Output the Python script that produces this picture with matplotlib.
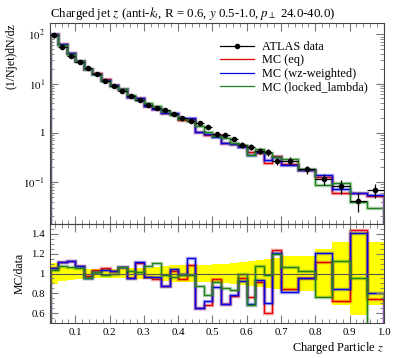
import numpy as np
import matplotlib
matplotlib.use("Agg")
import matplotlib.pyplot as plt
from matplotlib.lines import Line2D
from matplotlib.ticker import FixedLocator, MultipleLocator, FuncFormatter, LogLocator, NullFormatter

plt.rcParams['font.family'] = ['Liberation Serif', 'DejaVu Serif']
plt.rcParams['mathtext.fontset'] = 'stix'

# bin edges in z
edges = [0.025, 0.05, 0.075, 0.1, 0.125, 0.15, 0.175, 0.2, 0.225, 0.25, 0.275,
         0.3, 0.325, 0.35, 0.375, 0.4, 0.425, 0.45, 0.475, 0.5, 0.525, 0.55,
         0.575, 0.6, 0.625, 0.65, 0.675, 0.7, 0.75, 0.8, 0.85, 0.9, 0.95, 1.0]

# ATLAS data (1/Njet) dN/dz
data = [95, 56, 37, 27, 20.5, 15.5, 11.5, 9.0, 7.2, 5.7, 4.6, 3.7, 3.2, 2.85,
        2.4, 1.95, 1.75, 1.6, 1.3, 0.95, 0.91, 0.755, 0.57, 0.525, 0.435, 0.40,
        0.27, 0.27, 0.18, 0.115, 0.084, 0.042, 0.069]
# relative data uncertainty
data_rel_err = [0.11, 0.08, 0.07, 0.06, 0.045, 0.045, 0.045, 0.045, 0.05, 0.055,
                0.055, 0.06, 0.07, 0.08, 0.09, 0.09, 0.09, 0.09, 0.09, 0.1, 0.1,
                0.11, 0.12, 0.13, 0.14, 0.15, 0.16, 0.18, 0.18, 0.25, 0.32, 0.42, 0.32]

# MC / data ratios
ratio_eq = [1.06, 1.115, 1.125, 1.075, 0.97, 1.04, 1.055, 1.03, 1.065, 0.95, 1.11,
            0.965, 0.945, 0.87, 1.025, 0.94, 1.085, 0.65, 0.685, 0.945, 0.69, 0.77,
            0.955, 0.76, 0.91, 0.6, 1.24, 0.845, 0.955, 1.115, 0.72, 1.44, 0.74]
ratio_wz = [1.06, 1.115, 1.125, 1.075, 0.95, 1.015, 1.035, 1.025, 1.065, 0.95, 1.115,
            0.965, 0.965, 0.87, 1.05, 1.0, 1.155, 0.65, 0.72, 0.865, 0.69, 0.785,
            0.92, 0.69, 0.93, 0.705, 1.21, 0.81, 0.955, 1.21, 0.845, 1.41, 0.8]
ratio_ll = [1.04, 1.075, 1.065, 1.055, 0.95, 1.015, 0.99, 0.995, 1.065, 1.025, 1.015,
            1.075, 1.11, 0.98, 0.965, 0.99, 0.98, 0.87, 0.78, 0.915, 0.85, 0.83,
            1.0, 0.68, 1.08, 0.98, 1.2, 1.065, 1.025, 0.76, 1.125, 0.955, 0.43]

mc_names = ['MC (eq)', 'MC (wz-weighted)', 'MC (locked_lambda)']
mc_colors = ['#e00000', '#0000e0', '#208020']

edges_a = np.array(edges)
data_a = np.array(data)
centers = 0.5 * (edges_a[1:] + edges_a[:-1])
halfw = 0.5 * (edges_a[1:] - edges_a[:-1])
ratios = [np.array(ratio_eq), np.array(ratio_wz), np.array(ratio_ll)]

fig = plt.figure(figsize=(3.97, 3.58), dpi=100)
ax = fig.add_axes([0.125, 0.374, 0.842, 0.562])
rax = fig.add_axes([0.125, 0.098, 0.842, 0.276], sharex=ax)

# upper panel
for r, c in zip(ratios, mc_colors):
    mc = r * data_a
    ax.stairs(mc, edges_a, color=c, lw=2.5, alpha=0.35)
    ax.stairs(mc, edges_a, color=c, lw=0.9)
ax.errorbar(centers, data_a, xerr=halfw, yerr=data_a * np.array(data_rel_err),
            fmt='o', color='black', ms=3, lw=0.9, capsize=0, zorder=5)

ax.set_yscale('log')
ax.set_xlim(0.025, 1.0)
ax.set_ylim(0.014, 170)
ax.yaxis.set_major_locator(FixedLocator([0.1, 1, 10, 100]))
ax.yaxis.set_major_formatter(FuncFormatter(
    lambda v, p: {0.1: '$10^{-1}$', 1: '1', 10: '$10^{1}$', 100: '$10^{2}$'}.get(round(v, 3), '')))
ax.yaxis.set_minor_locator(LogLocator(base=10, subs=np.arange(2, 10)))
ax.yaxis.set_minor_formatter(NullFormatter())
ax.tick_params(labelbottom=False)
ax.set_ylabel('(1/Njet)dN/dz', loc='top', fontsize=8.5)
ax.set_title(r'Charged jet $z$ (anti-$k_t$, R = 0.6, $y$ 0.5-1.0, $p_\perp$ 24.0-40.0)',
             loc='left', fontsize=9.3, pad=4)

handles = [Line2D([], [], color='black', marker='o', ms=3, lw=0.9)]
handles += [Line2D([], [], color=c, lw=0.9) for c in mc_colors]
ax.legend(handles, ['ATLAS data'] + mc_names, loc='upper right',
          bbox_to_anchor=(0.965, 0.935), frameon=False, fontsize=8.8,
          handlelength=2.8, handletextpad=0.6, labelspacing=0.12, borderaxespad=0)

# ratio panel
band = np.array(data_rel_err)
rax.stairs(1 + band, edges_a, baseline=1 - band, fill=True, color='#ffff00', lw=0)
rax.axhline(1.0, color='#555555', lw=0.8)
for r, c in zip(ratios, mc_colors):
    rax.stairs(r, edges_a, color=c, lw=2.5, alpha=0.35)
    rax.stairs(r, edges_a, color=c, lw=0.9)
rax.set_ylim(0.5, 1.5)
rax.yaxis.set_major_locator(FixedLocator([0.6, 0.8, 1.0, 1.2, 1.4]))
rax.yaxis.set_major_formatter(FuncFormatter(lambda v, p: '1' if abs(v - 1) < 1e-6 else '%.1f' % v))
rax.yaxis.set_minor_locator(MultipleLocator(0.05))
rax.xaxis.set_major_locator(MultipleLocator(0.1))
rax.xaxis.set_minor_locator(MultipleLocator(0.02))
rax.xaxis.set_major_formatter(FuncFormatter(lambda v, p: '%.1f' % v))
rax.set_ylabel('MC/data', fontsize=8.5)
rax.set_xlabel('Charged Particle $z$', loc='right', fontsize=8.8, labelpad=2)

for a in (ax, rax):
    for s in a.spines.values():
        s.set_color('#444444')
        s.set_linewidth(0.8)
    a.tick_params(which='both', direction='in', top=True, right=True,
                  colors='#777777', labelcolor='black', labelsize=7.8)
    a.tick_params(which='major', length=6)
    a.tick_params(which='minor', length=3)

fig.savefig('out.png', dpi=100)
